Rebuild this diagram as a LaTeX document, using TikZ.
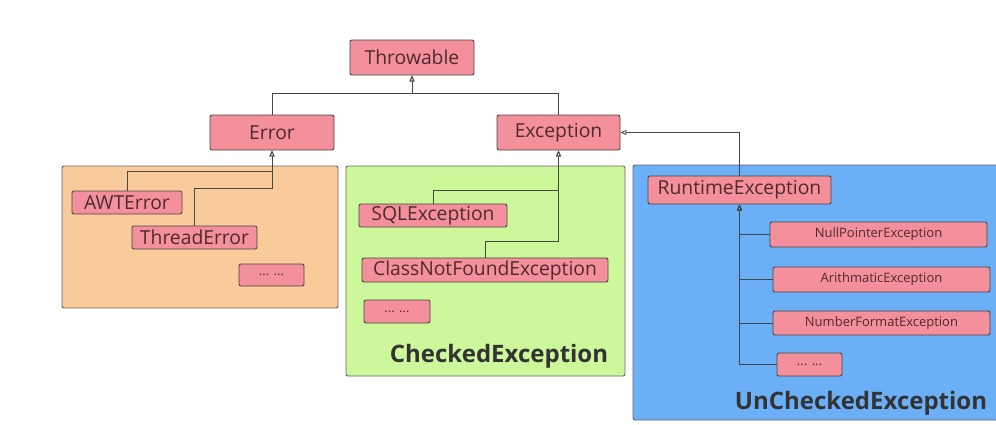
\documentclass[tikz,border=0pt]{standalone}
\usepackage{fontspec}
\setmainfont{Open Sans}
\usetikzlibrary{arrows.meta, positioning}
\definecolor{rose}{RGB}{244,143,156}
\definecolor{orange}{RGB}{249,202,154}
\definecolor{vert}{RGB}{204,247,154}
\definecolor{bleu}{RGB}{107,175,247}
\definecolor{trait}{RGB}{70,70,70}
\definecolor{encre}{RGB}{78,42,48}

\begin{document}
\begin{tikzpicture}[x=1pt, y=-1pt]
	\tikzstyle{classe}=[draw=trait, fill=rose, rounded corners=2pt, line width=0.9pt,
	  inner sep=0pt, text=encre, font=\fontsize{19.3}{21}\selectfont]
	\tikzstyle{petite}=[classe, font=\fontsize{13}{15}\selectfont]
	\tikzstyle{groupe}=[draw=gray!80!black, rounded corners=2pt, line width=0.9pt]
	\tikzstyle{titre}=[text=black!80, font=\bfseries\fontsize{24}{26}\selectfont]
	\tikzstyle{fleche}=[-{Triangle[open, length=6pt, width=5pt]}, draw=trait, line width=0.8pt]
	\clip (0,0) rectangle (996,424);
	\fill[white] (0,0) rectangle (996,424);
	% les trois familles
	\draw[groupe, fill=orange] (62,166) rectangle (338,308);
	\draw[groupe, fill=vert] (346,166) rectangle (625,376);
	\draw[groupe, fill=bleu] (633,165) rectangle (1010,420);
	% classes
	\node[classe, minimum width=124pt, minimum height=35pt] (throw) at (412,57.5) {Throwable};
	\node[classe, minimum width=124pt, minimum height=35pt] (err) at (272,132.5) {Error};
	\node[classe, minimum width=123pt, minimum height=35pt] (exc) at (558.5,132.5) {Exception};
	\node[classe, minimum width=110pt, minimum height=23pt] (awt) at (127,202.5) {AWTError};
	\node[classe, minimum width=125pt, minimum height=23pt] (thread) at (194.5,237.5) {ThreadError};
	\node[petite, minimum width=65pt, minimum height=22pt] (etc1) at (271.5,275) {... ...};
	\node[classe, minimum width=148pt, minimum height=23pt] (sql) at (433,215.5) {SQLException};
	\node[classe, minimum width=246pt, minimum height=24pt] (cnf) at (485,270) {ClassNotFoundException};
	\node[petite, minimum width=66pt, minimum height=23pt] (etc2) at (397,311.5) {... ...};
	\node[classe, minimum width=183pt, minimum height=28pt] (rt) at (739.5,190) {RuntimeException};
	\node[petite, minimum width=217pt, minimum height=25pt] (npe) at (878.5,234.5) {NullPointerException};
	\node[petite, minimum width=217pt, minimum height=25pt] (ari) at (881.5,279.5) {ArithmaticException};
	\node[petite, minimum width=217pt, minimum height=24pt] (nfe) at (881.5,323) {NumberFormatException};
	\node[petite, minimum width=65pt, minimum height=23pt] (etc3) at (809.5,364.5) {... ...};
	\node[titre] (checked) at (499,356) {CheckedException};
	\node[titre] (unchecked) at (861,403) {UnCheckedException};
	% points de jonction
	\coordinate (t1) at (412,93);
	\coordinate (e1) at (272,171);
	\coordinate (e2) at (272,188);
	\coordinate (c1) at (558.5,190);
	\coordinate (c2) at (558.5,241);
	% heritage
	\draw[fleche] (err.north) |- (t1) -- (throw.south);
	\draw[fleche] (exc.north) |- (t1) -- (throw.south);
	\draw[fleche] (awt.north) |- (e1) -- (err.south);
	\draw[fleche] (thread.north) |- (e2) -- (err.south);
	\draw[fleche] (sql.north) |- (c1) -- (exc.south);
	\draw[fleche] (cnf.north) |- (c2) -- (exc.south);
	\draw[fleche] (rt.north) |- (exc.east);
	\draw[fleche] (npe.west) -| (rt.south);
	\draw[fleche] (ari.west) -| (rt.south);
	\draw[fleche] (nfe.west) -| (rt.south);
	\draw[fleche] (etc3.west) -| (rt.south);
\end{tikzpicture}
\end{document}
